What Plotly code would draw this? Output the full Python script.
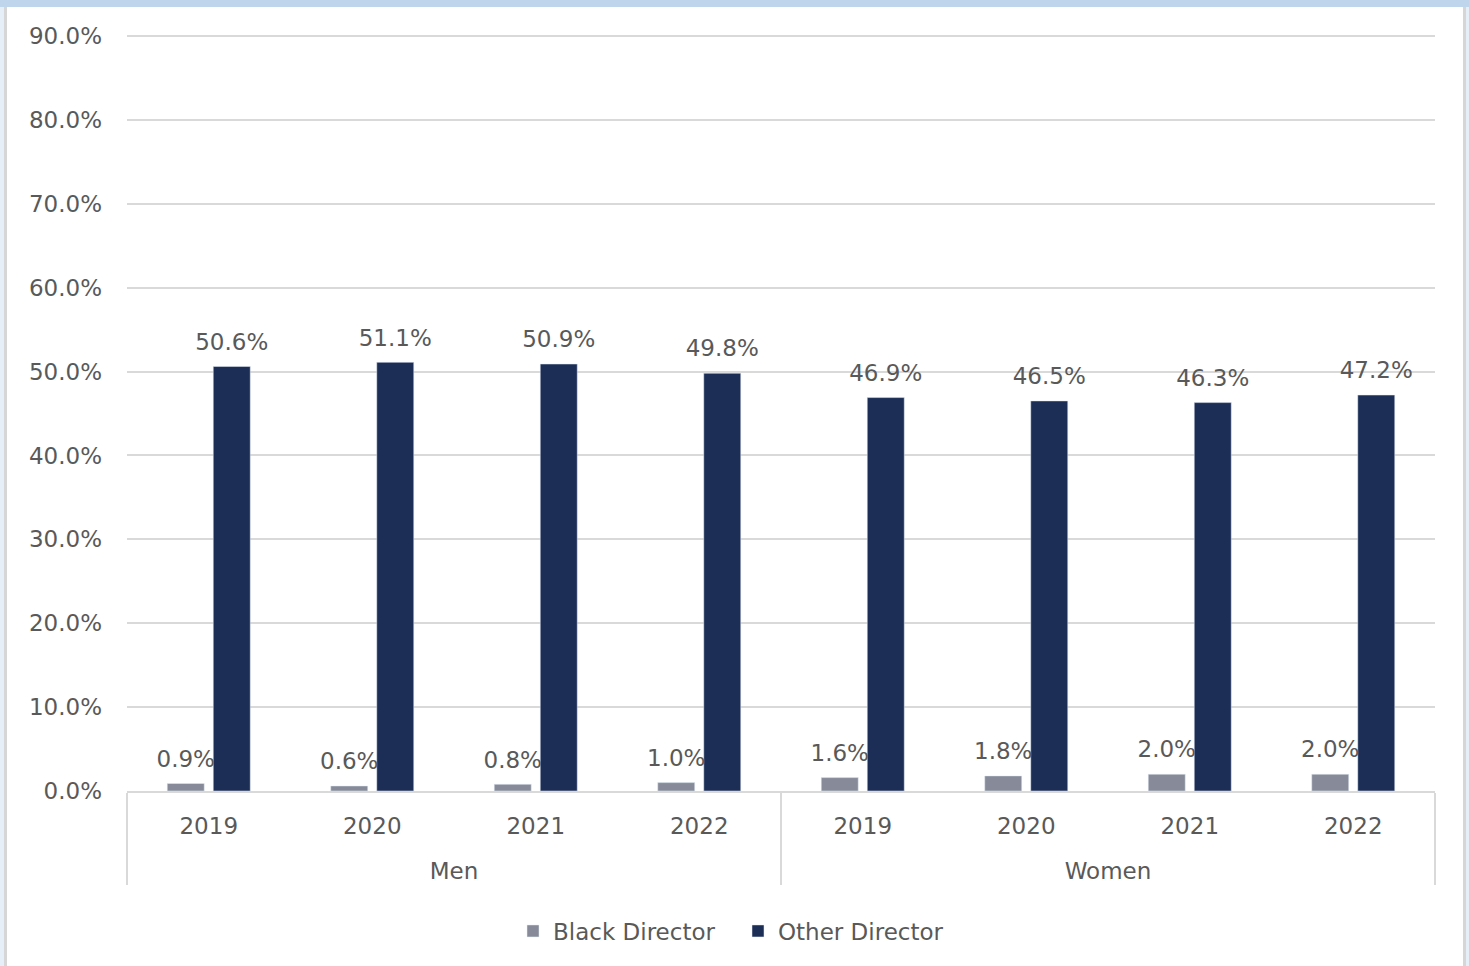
import plotly.graph_objects as go

groups = ["Men", "Men", "Men", "Men", "Women", "Women", "Women", "Women"]
years = ["2019", "2020", "2021", "2022", "2019", "2020", "2021", "2022"]
black_director = [0.9, 0.6, 0.8, 1.0, 1.6, 1.8, 2.0, 2.0]
other_director = [50.6, 51.1, 50.9, 49.8, 46.9, 46.5, 46.3, 47.2]
y_ticks = [0, 10, 20, 30, 40, 50, 60, 70, 80, 90]

FONT = "DejaVu Sans"
TXT = "#595959"
W, H = 1469, 966
Y_TOP = 90.36
L, R, T, B = 127, 34, 33, 175
GAP = 0.437

GRAY = "#878b99"
NAVY = "#1c2e56"

# group labels pushed to a second line so they sit lower, as in the reference
group_labels = ["<br>" + g for g in groups]
xcats = [group_labels, years]

fig = go.Figure()
for name, vals, col, og in [("Black Director", black_director, GRAY, "a"),
                            ("Other Director", other_director, NAVY, "b")]:
    fig.add_trace(go.Bar(
        x=xcats, y=vals, name=name, marker_color=col,
        offsetgroup=og,
    ))
for name, vals, og in [("Black Director", black_director, "a"),
                       ("Other Director", other_director, "b")]:
    fig.add_trace(go.Scatter(
        x=xcats, y=vals, mode="markers+text", showlegend=False,
        offsetgroup=og,
        marker=dict(size=16, color="rgba(0,0,0,0)"),
        text=[f"{v:.1f}%" for v in vals], textposition="top center",
        textfont=dict(family=FONT, size=23, color=TXT), cliponaxis=False,
    ))

pw = W - L - R
ph = H - T - B
def px(xp):
    return (xp - L) / pw
def py(yp):
    return (H - B - yp) / ph

shapes = [
    dict(type="rect", xref="paper", yref="paper", x0=px(0), x1=px(W), y0=py(7), y1=py(0),
         fillcolor="#bfd5ec", line_width=0, layer="above"),
    dict(type="rect", xref="paper", yref="paper", x0=px(0), x1=px(4), y0=py(H), y1=py(7),
         fillcolor="#e6eef8", line_width=0, layer="above"),
    dict(type="rect", xref="paper", yref="paper", x0=px(4), x1=px(7), y0=py(H), y1=py(7),
         fillcolor="#d6d6d6", line_width=0, layer="above"),
    dict(type="rect", xref="paper", yref="paper", x0=px(1463), x1=px(1466), y0=py(H), y1=py(7),
         fillcolor="#d6d6d6", line_width=0, layer="above"),
    dict(type="rect", xref="paper", yref="paper", x0=px(1466), x1=px(W), y0=py(H), y1=py(7),
         fillcolor="#e6eef8", line_width=0, layer="above"),
]

fig.update_layout(
    width=W, height=H,
    margin=dict(l=L, r=R, t=T, b=B, autoexpand=False),
    paper_bgcolor="white", plot_bgcolor="white",
    barmode="group", bargap=GAP, bargroupgap=0.196,
    scattermode="group", scattergap=GAP,
    font=dict(family=FONT, size=23, color=TXT),
    showlegend=True,
    legend=dict(orientation="h", x=px(513), xanchor="left", y=py(931), yanchor="middle",
                font=dict(family=FONT, size=23, color=TXT), itemclick=False,
                entrywidth=180, entrywidthmode="pixels"),
    shapes=shapes,
    hovermode=False,
)
fig.update_yaxes(
    range=[0, Y_TOP], tickvals=y_ticks, ticktext=[f"{v:.1f}%" for v in y_ticks],
    showgrid=True, gridcolor="#d9d9d9", gridwidth=2, zeroline=False,
    ticklabelstandoff=24, tickfont=dict(family=FONT, size=23, color=TXT),
)
fig.update_xaxes(
    showline=True, linecolor="#d9d9d9", linewidth=2,
    showdividers=True, dividercolor="#d9d9d9", dividerwidth=2,
    tickfont=dict(family=FONT, size=23, color=TXT),
    ticklabelstandoff=13,
)

fig.write_html("out.html", config={"displayModeBar": False},
               post_script="document.body.style.margin='0';")
